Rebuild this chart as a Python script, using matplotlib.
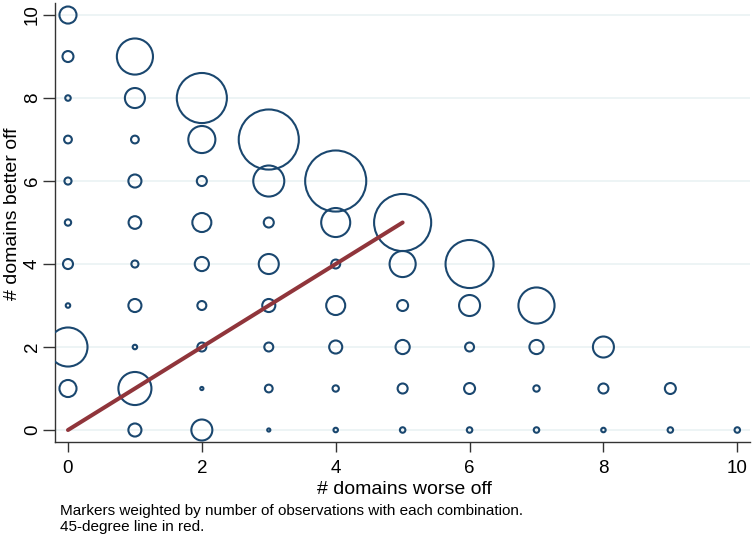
import matplotlib
matplotlib.use("Agg")
import matplotlib.pyplot as plt
from matplotlib import font_manager

# ---- data ----
worse_off = [0]*10 + [1]*10 + [2]*9 + [3]*8 + [4]*7 + [5]*6 + [6]*5 + [7]*4 + [8]*3 + [9]*2 + [10]
better_off = (list(range(1, 11)) + list(range(0, 10)) + list(range(0, 9)) + list(range(0, 8))
              + list(range(0, 7)) + list(range(0, 6)) + list(range(0, 5)) + list(range(0, 4))
              + list(range(0, 3)) + list(range(0, 2)) + [0])
n_obs = ([29, 152, 2, 10, 4, 5, 6, 3, 12, 29]
         + [17, 109, 2, 17, 5, 16, 17, 6, 40, 130]
         + [44, 1, 8, 8, 20, 36, 10, 73, 250]
         + [1, 6, 8, 17, 40, 10, 96, 360]
         + [2, 4, 17, 36, 8, 84, 372]
         + [3, 10, 20, 12, 68, 325]
         + [3, 12, 8, 44, 230]
         + [3, 4, 20, 130]
         + [2, 10, 44]
         + [3, 12]
         + [3])
line_x = [0, 5]
line_y = [0, 5]
ticks = [0, 2, 4, 6, 8, 10]

names = {f.name for f in font_manager.fontManager.ttflist}
fam = ["Liberation Sans Narrow", "Liberation Sans", "DejaVu Sans"]
fam = [f for f in fam if f in names] or ["DejaVu Sans"]
plt.rcParams["font.family"] = fam

W, H = 753, 539
fig = plt.figure(figsize=(W/100, H/100), dpi=100)
ax = fig.add_axes([55/W, 1-442/H, (750-55)/W, (442-3)/H])

ax.scatter(worse_off, better_off, s=[v*5.2 for v in n_obs], facecolors="none",
           edgecolors="#1a476f", linewidths=1.5, zorder=3)
ax.plot(line_x, line_y, color="#90353b", linewidth=2.9, solid_capstyle="round", zorder=4)

ax.set_xlim(-0.194, 10.19)
ax.set_ylim(-0.289, 10.29)
ax.set_xticks(ticks)
ax.set_yticks(ticks)
ax.set_xticklabels([str(t) for t in ticks], fontsize=13.5)
ax.set_yticklabels([str(t) for t in ticks], fontsize=13.5, rotation=90, va="center")
ax.tick_params(axis="x", direction="out", length=7, width=1, color="#333333", pad=6)
ax.tick_params(axis="y", direction="out", length=9, width=1, color="#333333", pad=1)
ax.grid(axis="y", color="#eaf2f3", linewidth=1.2, zorder=0)
ax.set_axisbelow(True)
for s in ["top", "right"]:
    ax.spines[s].set_visible(False)
for s in ["left", "bottom"]:
    ax.spines[s].set_color("#333333")
    ax.spines[s].set_linewidth(1)

ax.set_xlabel("# domains worse off", fontsize=14)
ax.xaxis.set_label_coords((404-55)/695, (442-489)/439)
ax.xaxis.label.set_va("center")
ax.set_ylabel("# domains better off", fontsize=14)
ax.yaxis.set_label_coords((13-55)/695, (442-214)/439)
ax.yaxis.label.set_va("center")

fig.text(60/W, 1-511/H, "Markers weighted by number of observations with each combination.",
         fontsize=11, va="center", ha="left")
fig.text(60/W, 1-527/H, "45-degree line in red.", fontsize=11, va="center", ha="left")

fig.savefig("out.png", dpi=100)
